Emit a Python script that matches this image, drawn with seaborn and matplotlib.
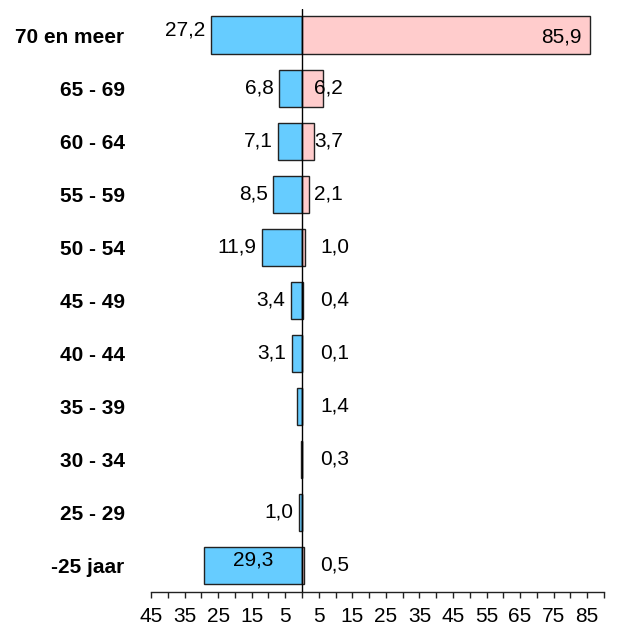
import numpy as np
import pandas as pd
import matplotlib
matplotlib.use('Agg')
import matplotlib.pyplot as plt
import seaborn as sns

# leeftijdsgroepen en waarden
groepen = ['70 en meer', '65 - 69', '60 - 64', '55 - 59', '50 - 54', '45 - 49',
           '40 - 44', '35 - 39', '30 - 34', '25 - 29', '-25 jaar']
links = [27.2, 6.8, 7.1, 8.5, 11.9, 3.4, 3.1, 1.4, 0.3, 1.0, 29.3]
rechts = [85.9, 6.2, 3.7, 2.1, 1.0, 0.4, 0.1, 0.0, 0.0, 0.0, 0.5]
labels_links = ['27,2', '6,8', '7,1', '8,5', '11,9', '3,4', '3,1', '', '', '1,0', '29,3']
labels_rechts = ['85,9', '6,2', '3,7', '2,1', '1,0', '0,4', '0,1', '1,4', '0,3', '', '0,5']
tick_waarden = [-45, -35, -25, -15, -5, 5, 15, 25, 35, 45, 55, 65, 75, 85]

sns.set_style('white')
plt.rcParams['font.family'] = ['Liberation Sans', 'DejaVu Sans']
plt.rcParams['text.color'] = 'black'
plt.rcParams['xtick.color'] = 'black'
plt.rcParams['ytick.color'] = 'black'

df = pd.DataFrame({'groep': groepen, 'links': -np.array(links), 'rechts': rechts})

fig = plt.figure(figsize=(6.2, 6.27), dpi=100)
ax = fig.add_axes([0.2435, 0.0558, 0.7306, 0.9306])

sns.barplot(data=df, x='links', y='groep', color='#66CCFF', saturation=1,
            edgecolor='#222222', linewidth=1, width=0.7, ax=ax, orient='h')
sns.barplot(data=df, x='rechts', y='groep', color='#FFCCCC', saturation=1,
            edgecolor='#222222', linewidth=1, width=0.7, ax=ax, orient='h')

ax.axvline(0, color='black', linewidth=1, zorder=5)

# waardelabels
for i, (l, r) in enumerate(zip(links, rechts)):
    if labels_links[i]:
        if i == len(groepen) - 1:
            ax.text(-l / 2, i - 0.1, labels_links[i], ha='center', va='center', fontsize=15)
        else:
            ax.annotate(labels_links[i], (-l, i - (0.1 if i == 0 else 0)), xytext=(-4, 0),
                        textcoords='offset points', ha='right', va='center', fontsize=15)
    if labels_rechts[i]:
        if i == 0:
            ax.annotate(labels_rechts[i], (r, i + 0.03), xytext=(-6, 0),
                        textcoords='offset points', ha='right', va='center', fontsize=15)
        else:
            x = 3.6 if r > 2 else 5.4
            ax.text(x, i, labels_rechts[i], ha='left', va='center', fontsize=15)

ax.set_xlim(-45, 90)
ax.set_ylim(10.5, -0.5)
ax.set_xticks(tick_waarden)
ax.set_xticklabels([str(abs(t)) for t in tick_waarden], fontsize=15)
ax.set_xticks(np.arange(-40, 91, 10), minor=True)
ax.tick_params(axis='x', which='both', direction='out', length=4, width=1,
               color='#222222', bottom=True, pad=6.5)
ax.tick_params(axis='y', length=0, pad=19)
for lbl in ax.get_yticklabels():
    lbl.set_fontweight('bold')
    lbl.set_fontsize(15)

ax.set_xlabel('')
ax.set_ylabel('')
for s in ['top', 'right', 'left']:
    ax.spines[s].set_visible(False)
ax.spines['bottom'].set_color('#222222')
ax.spines['bottom'].set_linewidth(1)

plt.savefig('out.png', dpi=100)
